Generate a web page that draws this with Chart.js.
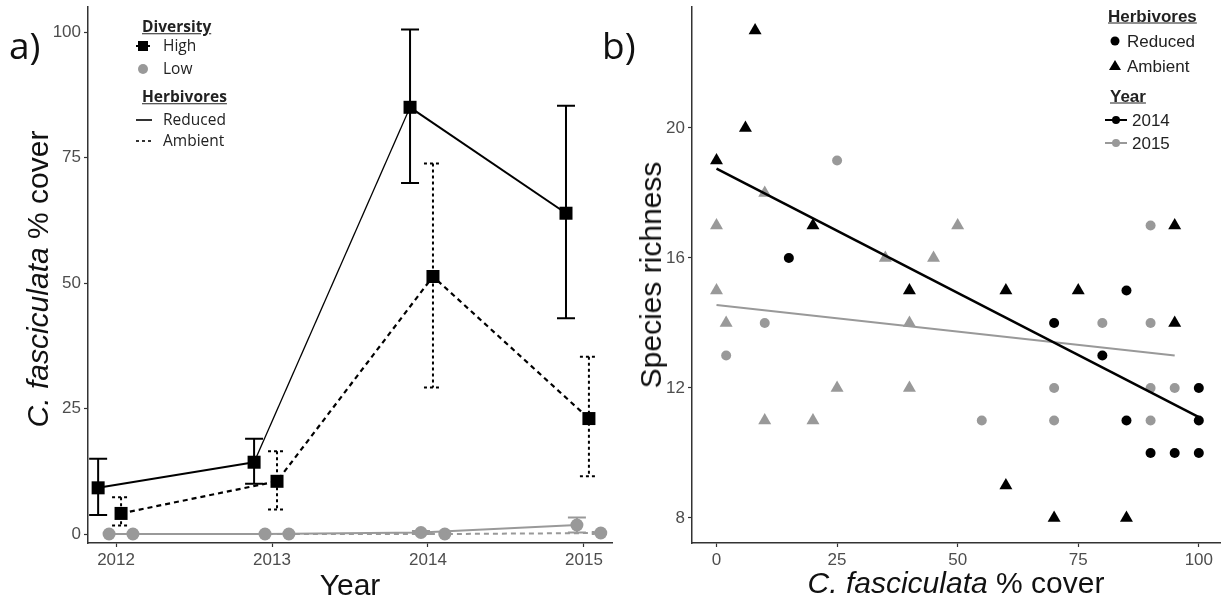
<!DOCTYPE html>
<html>
<head>
<meta charset="utf-8">
<script src="https://cdn.jsdelivr.net/npm/chart.js@4.4.1/dist/chart.umd.min.js"></script>
<style>
  html, body { margin: 0; padding: 0; background: #fff; }
  body { width: 1221px; height: 603px; position: relative; overflow: hidden;
         font-family: "Liberation Sans", Arial, sans-serif; color: #111; }
  canvas { position: absolute; top: 0; }
  #chart-a { left: 0; }
  #chart-b { left: 616px; }
  .t { position: absolute; white-space: nowrap; line-height: 1; }
  .mid { transform: translate(-50%, -50%); }
  .rot { transform: translate(-50%, -50%) rotate(-90deg); }
  .vc { transform: translateY(-50%); }
  .tag { font-family: "Open Sans", sans-serif; font-size: 37px; }
  .axt { font-size: 30px; color: #111; }
  .lga { font-family: "Open Sans", sans-serif; font-size: 15.5px; color: #222; }
  .lgb { font-size: 17px; color: #222; }
  .hd { font-weight: bold; text-decoration: underline; }
  svg.key { position: absolute; overflow: visible; }
</style>
</head>
<body>
<canvas id="chart-a" width="616" height="603"></canvas>
<canvas id="chart-b" width="605" height="603"></canvas>

<!-- panel labels + axis titles -->
<div class="t tag vc" style="left:9px;top:44px">a)</div>
<div class="t tag vc" style="left:602px;top:44px">b)</div>
<div class="t axt rot" style="left:38px;top:279px"><i>C. fasciculata</i> % cover</div>
<div class="t axt mid" style="left:350px;top:585px">Year</div>
<div class="t axt rot" style="left:651px;top:275px">Species richness</div>
<div class="t axt mid" style="left:956px;top:583px"><i>C. fasciculata</i> % cover</div>

<!-- legend, panel a -->
<div class="t lga hd vc" style="left:142px;top:27px">Diversity</div>
<svg class="key" style="left:0;top:0" width="1" height="1">
  <line x1="136" y1="46" x2="150" y2="46" stroke="#000" stroke-width="2"/>
  <rect x="138" y="41" width="10" height="10" fill="#000"/>
  <circle cx="143" cy="69" r="5" fill="#999"/>
  <line x1="136" y1="120" x2="152" y2="120" stroke="#333" stroke-width="2"/>
  <line x1="136" y1="141" x2="152" y2="141" stroke="#333" stroke-width="2" stroke-dasharray="3,3"/>
</svg>
<div class="t lga vc" style="left:163px;top:46px">High</div>
<div class="t lga vc" style="left:163px;top:69px">Low</div>
<div class="t lga hd vc" style="left:142px;top:97px">Herbivores</div>
<div class="t lga vc" style="left:163px;top:120px">Reduced</div>
<div class="t lga vc" style="left:163px;top:141px">Ambient</div>

<!-- legend, panel b -->
<div class="t lgb hd vc" style="left:1108px;top:16px">Herbivores</div>
<svg class="key" style="left:0;top:0" width="1" height="1">
  <circle cx="1115" cy="41" r="4.5" fill="#000"/>
  <polygon points="1115,60 1121,70 1109,70" fill="#000"/>
  <line x1="1105" y1="120" x2="1127" y2="120" stroke="#000" stroke-width="2"/>
  <circle cx="1116" cy="120" r="4" fill="#000"/>
  <line x1="1105" y1="143" x2="1127" y2="143" stroke="#999" stroke-width="2"/>
  <circle cx="1116" cy="143" r="4" fill="#999"/>
</svg>
<div class="t lgb vc" style="left:1127px;top:41px">Reduced</div>
<div class="t lgb vc" style="left:1127px;top:66px">Ambient</div>
<div class="t lgb hd vc" style="left:1110px;top:96px">Year</div>
<div class="t lgb vc" style="left:1132px;top:120px">2014</div>
<div class="t lgb vc" style="left:1132px;top:143px">2015</div>

<script>
/* ── Data, panel a: mean % cover ± error, by year ─────────── */
const years = [2012, 2013, 2014, 2015];

const highReduced   = [9.2, 14.3, 85.0, 63.9];
const highReducedLo = [3.8, 10.0, 69.9, 43.0];
const highReducedHi = [15.0, 19.0, 100.5, 85.3];

const highAmbient   = [4.1, 10.5, 51.3, 23.0];
const highAmbientLo = [1.7, 4.9, 29.2, 11.5];
const highAmbientHi = [7.3, 16.5, 73.8, 35.3];

const lowReduced   = [0, 0, 0.3, 1.8];
const lowReducedLo = [0, 0, 0, 0.3];
const lowReducedHi = [0, 0, 0.6, 3.3];

const lowAmbient   = [0, 0, 0, 0.2];
const lowAmbientLo = [0, 0, 0, 0];
const lowAmbientHi = [0, 0, 0, 0.4];

const yearTicks  = [2012, 2013, 2014, 2015];
const coverTicks = [0, 25, 50, 75, 100];

/* ── Data, panel b: species richness vs % cover ───────────── */
const cover14Reduced = [15, 85, 70, 80, 100, 85, 100, 90, 95, 100];
const rich14Reduced  = [16, 15, 14, 13, 12, 11, 11, 10, 10, 10];

const cover14Ambient = [8, 6, 0, 20, 95, 40, 60, 75, 95, 60, 70, 85];
const rich14Ambient  = [23, 20, 19, 17, 17, 15, 15, 15, 14, 9, 8, 8];

const cover15Reduced = [25, 90, 10, 80, 90, 2, 70, 90, 95, 55, 70, 90];
const rich15Reduced  = [19, 17, 14, 14, 14, 13, 12, 12, 12, 11, 11, 11];

const cover15Ambient = [10, 0, 50, 35, 45, 0, 2, 40, 25, 40, 10, 20];
const rich15Ambient  = [18, 17, 17, 16, 16, 15, 14, 14, 12, 12, 11, 11];

// fitted lines (ends)
const fit14Cover = [0, 100];
const fit14Rich  = [18.75, 11.1];
const fit15Cover = [0, 95];
const fit15Rich  = [14.55, 13.0];

const pctTicks  = [0, 25, 50, 75, 100];
const richTicks = [8, 12, 16, 20];

/* ── Helpers ──────────────────────────────────────────────── */
const BLACK = '#000';
const GREY  = '#999';
const dodge = { highReduced: -0.115, lowReduced: -0.045, highAmbient: 0.032, lowAmbient: 0.108 };

const pts = (xs, ys, dx = 0) => xs.map((x, i) => ({ x: x + dx, y: ys[i] }));

// fixed axis box sizes, no extra room for overhanging tick labels
const fitX = h => s => { s.height = h; s.paddingLeft = 0; s.paddingRight = 0; };
const fitY = w => s => { s.width = w; s.paddingTop = 0; s.paddingBottom = 0; };

function axis(min, max, vals, size) {
  return {
    type: 'linear', min, max,
    afterBuildTicks: s => { s.ticks = vals.map(v => ({ value: v })); },
    afterFit: size,
    ticks: { color: '#4d4d4d', font: { family: 'Liberation Sans', size: 17 }, padding: 3,
             autoSkip: false, maxRotation: 0, callback: v => String(v) },
    grid: { drawOnChartArea: false, drawTicks: true, tickLength: 4, tickColor: '#333', tickWidth: 1.2 },
    border: { display: true, color: '#333', width: 1.5 },
  };
}

// error bars drawn under the points, through the chart's own scales
const errorBars = {
  id: 'errorBars',
  beforeDatasetsDraw(chart) {
    const { ctx, scales: { x, y } } = chart;
    chart.data.datasets.forEach(ds => {
      if (!ds.lo) return;
      ctx.save();
      ctx.strokeStyle = ds.barColor;
      ctx.lineWidth = 2;
      ctx.setLineDash(ds.barDash || []);
      ds.data.forEach((p, i) => {
        if (ds.hi[i] - ds.lo[i] <= 0.05) return;
        const px = x.getPixelForValue(p.x);
        const top = y.getPixelForValue(ds.hi[i]);
        const bot = y.getPixelForValue(ds.lo[i]);
        ctx.beginPath();
        ctx.moveTo(px, top); ctx.lineTo(px, bot);
        ctx.moveTo(px - 9, top); ctx.lineTo(px + 9, top);
        ctx.moveTo(px - 9, bot); ctx.lineTo(px + 9, bot);
        ctx.stroke();
      });
      ctx.restore();
    });
  },
};

const common = {
  responsive: false,
  animation: false,
  plugins: { legend: { display: false }, tooltip: { enabled: false } },
};

/* ── Panel a ──────────────────────────────────────────────── */
new Chart(document.getElementById('chart-a'), {
  type: 'scatter',
  data: {
    datasets: [
      { data: pts(years, highReduced, dodge.highReduced), lo: highReducedLo, hi: highReducedHi,
        barColor: BLACK, showLine: true, borderColor: BLACK, borderWidth: 2,
        segment: { borderWidth: c => c.p0DataIndex === 1 ? 1.3 : 2 },   // 2013→2014 drawn thin in the original
        pointStyle: 'rect', pointRadius: 9.2, backgroundColor: BLACK, pointBorderWidth: 0 },
      { data: pts(years, highAmbient, dodge.highAmbient), lo: highAmbientLo, hi: highAmbientHi,
        barColor: BLACK, barDash: [3, 3], showLine: true, borderColor: BLACK, borderWidth: 2.2,
        borderDash: [5, 4], pointStyle: 'rect', pointRadius: 9.2, backgroundColor: BLACK, pointBorderWidth: 0 },
      { data: pts(years, lowReduced, dodge.lowReduced), lo: lowReducedLo, hi: lowReducedHi,
        barColor: GREY, showLine: true, borderColor: GREY, borderWidth: 2,
        pointStyle: 'circle', pointRadius: 6.5, backgroundColor: GREY, pointBorderWidth: 0 },
      { data: pts(years, lowAmbient, dodge.lowAmbient), lo: lowAmbientLo, hi: lowAmbientHi,
        barColor: GREY, barDash: [3, 3], showLine: true, borderColor: GREY, borderWidth: 2,
        borderDash: [5, 4], pointStyle: 'circle', pointRadius: 6.5, backgroundColor: GREY, pointBorderWidth: 0 },
    ],
  },
  options: {
    ...common,
    layout: { autoPadding: false, padding: { left: 0, top: 7, right: 4, bottom: 0 } },
    scales: {
      x: axis(2011.82, 2015.18, yearTicks, fitX(60)),
      y: axis(-1.79, 104.98, coverTicks, fitY(88)),
    },
  },
  plugins: [errorBars],
});

/* ── Panel b ──────────────────────────────────────────────── */
new Chart(document.getElementById('chart-b'), {
  type: 'scatter',
  data: {
    datasets: [
      { data: pts(fit14Cover, fit14Rich), showLine: true, borderColor: BLACK, borderWidth: 2.5, pointRadius: 0 },
      { data: pts(cover14Reduced, rich14Reduced), pointStyle: 'circle', pointRadius: 5,
        backgroundColor: BLACK, pointBorderWidth: 0 },
      { data: pts(cover14Ambient, rich14Ambient), pointStyle: 'triangle', pointRadius: 7.5,
        backgroundColor: BLACK, pointBorderWidth: 0 },
      { data: pts(fit15Cover, fit15Rich), showLine: true, borderColor: GREY, borderWidth: 2, pointRadius: 0 },
      { data: pts(cover15Reduced, rich15Reduced), pointStyle: 'circle', pointRadius: 5,
        backgroundColor: GREY, pointBorderWidth: 0 },
      { data: pts(cover15Ambient, rich15Ambient), pointStyle: 'triangle', pointRadius: 7.5,
        backgroundColor: GREY, pointBorderWidth: 0 },
    ],
  },
  options: {
    ...common,
    layout: { autoPadding: false, padding: { left: 0, top: 7, right: 0, bottom: 0 } },
    scales: {
      x: axis(-5.08, 104.6, pctTicks, fitX(60)),
      y: axis(7.23, 23.72, richTicks, fitY(76)),
    },
  },
});
</script>
</body>
</html>
